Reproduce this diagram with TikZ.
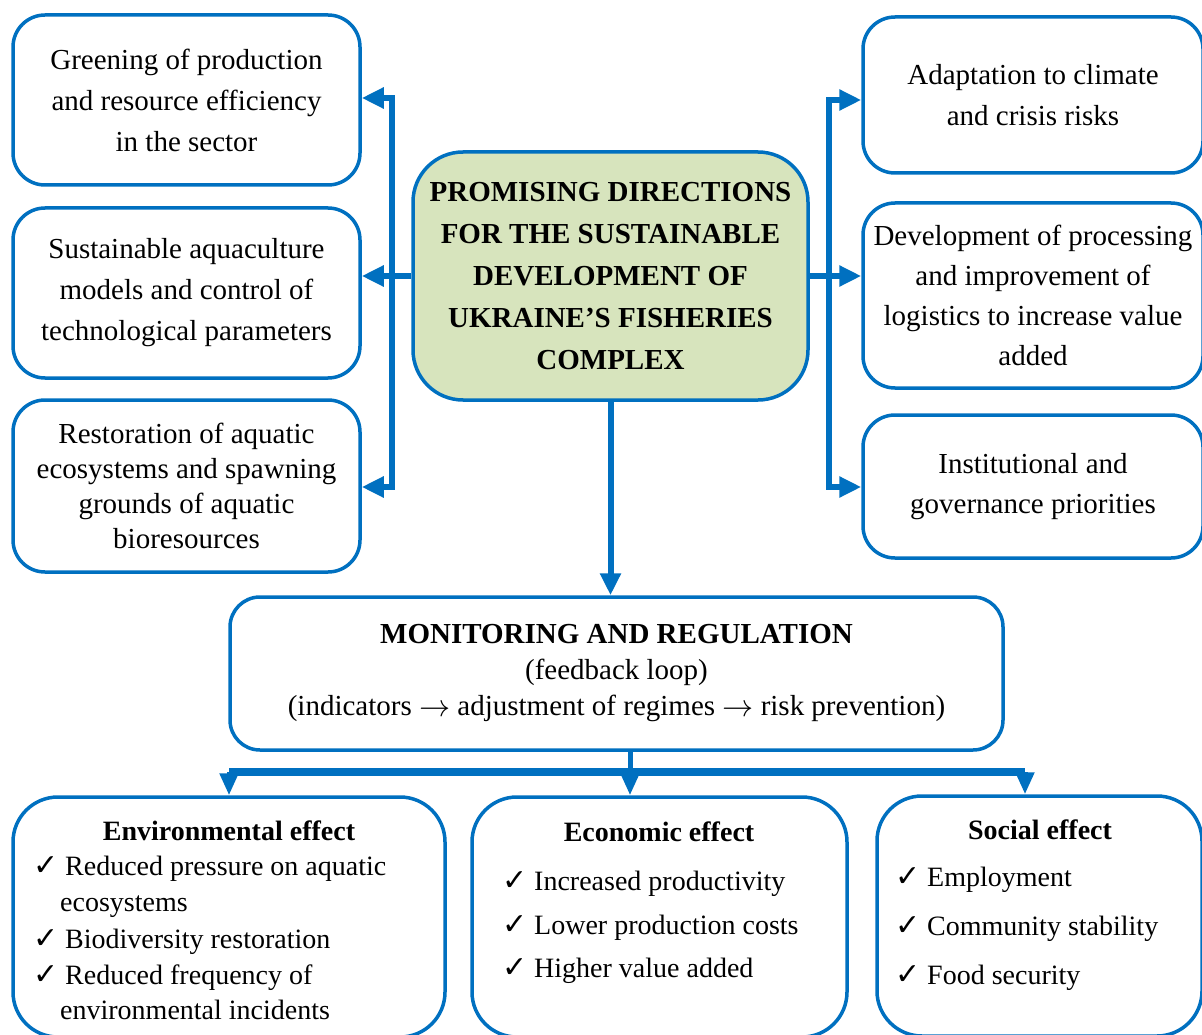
\documentclass[tikz,border=0pt]{standalone}
\usepackage{fontspec}
\setmainfont{Liberation Serif}
\newfontfamily\symfont{DejaVu Sans}
\usetikzlibrary{positioning, arrows.meta}
\definecolor{lineblue}{HTML}{0070C0}
\definecolor{hubgreen}{HTML}{D7E4BD}
\newcommand{\chk}{\makebox[32pt][l]{\symfont\bfseries\fontsize{30}{30}\selectfont ✓}}
\newcommand{\rarr}{\raisebox{-1pt}{\scalebox{1.25}{$\rightarrow$}}}
\tikzset{
	box/.style={draw=lineblue, line width=3.5pt, rounded corners=32pt, fill=white,
		inner sep=0pt, align=center, font=\fontsize{29}{41}\selectfont},
	hub/.style={box, fill=hubgreen, rounded corners=50pt,
		font=\bfseries\fontsize{29}{42}\selectfont},
	effect/.style={box, rounded corners=45pt},
	heading/.style={anchor=base, inner sep=0pt, font=\bfseries\fontsize{28}{34}\selectfont},
	item/.style={anchor=base west, inner sep=0pt, font=\fontsize{28}{34}\selectfont},
	link/.style={draw=lineblue, line width=6pt, line join=miter, -{Triangle[length=22pt,width=20pt]}},
	drop/.style={draw=lineblue, line width=5pt, -{Triangle[length=22pt,width=18pt]}},
	bus/.style={draw=lineblue, line width=8pt},
}

\begin{document}
\begin{tikzpicture}[x=1pt, y=-1pt]
	\useasboundingbox (0,0) rectangle (1202,1035);

	% central block
	\node[hub, minimum width=395pt, minimum height=248pt] (hub) at (610.5,276)
		{PROMISING DIRECTIONS\\FOR THE SUSTAINABLE\\DEVELOPMENT OF\\UKRAINE’S FISHERIES\\COMPLEX};

	% left directions
	\node[box, minimum width=347pt, minimum height=170pt] (green) at (186.5,100)
		{Greening of production\\and resource efficiency\\in the sector};
	\node[box, minimum width=347pt, minimum height=170pt] (aqua) at (186.5,293)
		{Sustainable aquaculture\\models and control of\\technological parameters};
	\node[box, minimum width=347pt, minimum height=172pt, font=\fontsize{29}{35}\selectfont] (restore) at (186.5,486)
		{Restoration of aquatic\\ecosystems and spawning\\grounds of aquatic\\bioresources};

	% right directions
	\node[box, minimum width=340pt, minimum height=156pt] (climate) at (1033,95)
		{Adaptation to climate\\and crisis risks};
	\node[box, minimum width=340pt, minimum height=185pt, font=\fontsize{29}{40}\selectfont] (logist) at (1033,295.5)
		{Development of processing\\and improvement of\\logistics to increase value\\added};
	\node[box, minimum width=340pt, minimum height=143pt, font=\fontsize{29}{40}\selectfont] (govern) at (1033,486.5)
		{Institutional and\\governance priorities};

	% monitoring
	\node[box, minimum width=773pt, minimum height=153pt, rounded corners=30pt, font=\fontsize{29}{36}\selectfont] (monitor) at (616.5,673.5)
		{\textbf{MONITORING AND REGULATION}\\(feedback loop)\\(indicators \rarr{} adjustment of regimes \rarr{} risk prevention)};

	% effects
	\node[effect, minimum width=432pt, minimum height=240pt] (env) at (229,917) {};
	\node[effect, minimum width=375pt, minimum height=240pt] (econ) at (659.5,917) {};
	\node[effect, minimum width=325pt, minimum height=240pt] (soc) at (1039.5,916) {};

	\node[heading] (envT) at (229,840) {Environmental effect};
	\node[item] (env1) at (33,875) {\chk Reduced pressure on aquatic};
	\node[item] (env1b) at (60,911) {ecosystems};
	\node[item] (env2) at (33,948) {\chk Biodiversity restoration};
	\node[item] (env3) at (33,984) {\chk Reduced frequency of};
	\node[item] (env3b) at (60,1019) {environmental incidents};

	\node[heading] (econT) at (659,841) {Economic effect};
	\node[item] (econ1) at (502,890) {\chk Increased productivity};
	\node[item] (econ2) at (502,934) {\chk Lower production costs};
	\node[item] (econ3) at (502,977) {\chk Higher value added};

	\node[heading] (socT) at (1040,839) {Social effect};
	\node[item] (soc1) at (895,886) {\chk Employment};
	\node[item] (soc2) at (895,935) {\chk Community stability};
	\node[item] (soc3) at (895,984) {\chk Food security};

	% connectors
	\coordinate (ltop) at (392,98);
	\coordinate (lbot) at (392,487);
	\coordinate (rtop) at (829,100);
	\coordinate (rbot) at (829,487);
	\draw[link, {Triangle[length=22pt,width=20pt]}-{Triangle[length=22pt,width=20pt]}]
		(ltop -| green.east) -- (ltop) -- (lbot) -- (lbot -| restore.east);
	\draw[link, {Triangle[length=22pt,width=20pt]}-{Triangle[length=22pt,width=20pt]}]
		(rtop -| climate.west) -- (rtop) -- (rbot) -- (rbot -| govern.west);
	\draw[link] (hub.west) -- (hub.west -| aqua.east);
	\draw[link] (hub.east) -- (hub.east -| logist.west);
	\draw[link] (hub.south) -- (hub.south |- monitor.north);

	\coordinate (mid) at (630,772);
	\coordinate (bleft) at (229,772);
	\coordinate (bright) at (1025,772);
	\draw[draw=lineblue, line width=5pt] (mid |- monitor.south) -- (mid);
	\draw[bus] (bleft) -- (bright);
	\draw[drop] (bleft) -- (bleft |- env.north);
	\draw[drop] (mid) -- (mid |- econ.north);
	\draw[drop] (bright) -- (bright |- soc.north);
\end{tikzpicture}
\end{document}
